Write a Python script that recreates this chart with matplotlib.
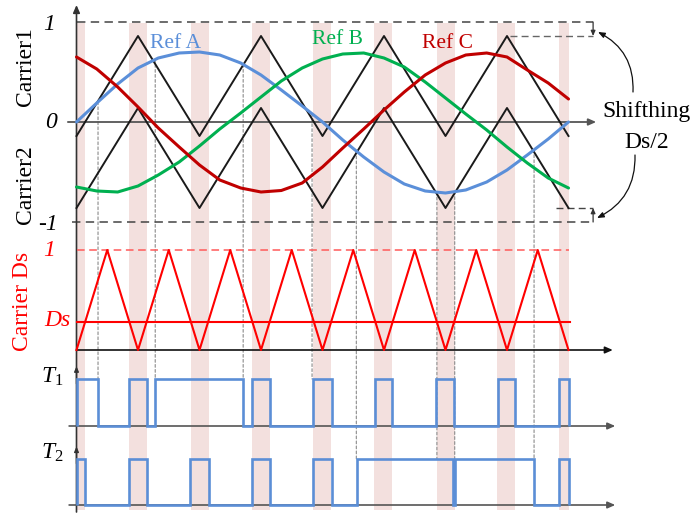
import numpy as np
import matplotlib
matplotlib.use("Agg")
import matplotlib.pyplot as plt
from matplotlib.patches import FancyArrowPatch, ConnectionPatch

plt.rcParams['font.family'] = ['Liberation Serif', 'DejaVu Serif']
plt.rcParams['mathtext.fontset'] = 'custom'
plt.rcParams['mathtext.it'] = 'Liberation Serif:italic'
plt.rcParams['mathtext.rm'] = 'Liberation Serif'

# ---------------- data ----------------
# time axis: one fundamental cycle = 8 periods of the Ds carrier
DS = 0.28

CARRIER_T = [0, 1, 2, 3, 4, 5, 6, 7, 8]
CARRIER1 = [-0.14, 0.86, -0.14, 0.86, -0.14, 0.86, -0.14, 0.86, -0.14]
CARRIER2 = [-0.86, 0.14, -0.86, 0.14, -0.86, 0.14, -0.86, 0.14, -0.86]

CARRIER_DS_T = [0, 0.5, 1, 1.5, 2, 2.5, 3, 3.5, 4, 4.5, 5, 5.5, 6, 6.5, 7, 7.5, 8]
CARRIER_DS = [0, 1, 0, 1, 0, 1, 0, 1, 0, 1, 0, 1, 0, 1, 0, 1, 0]

# reference waves sampled every third of a Ds-carrier period
REF_T = [0.0, 0.33, 0.67, 1.0, 1.33, 1.67, 2.0, 2.33, 2.67, 3.0, 3.33, 3.67,
         4.0, 4.33, 4.67, 5.0, 5.33, 5.67, 6.0, 6.33, 6.67, 7.0, 7.33, 7.67, 8.0]
REF_A = [0.0, 0.19, 0.38, 0.54, 0.64, 0.69, 0.70, 0.67, 0.59, 0.47, 0.32, 0.16,
         0.0, -0.18, -0.35, -0.50, -0.62, -0.69, -0.71, -0.68, -0.60, -0.48,
         -0.33, -0.17, 0.0]
REF_B = [-0.65, -0.69, -0.70, -0.64, -0.53, -0.40, -0.24, -0.07, 0.09, 0.25,
         0.41, 0.54, 0.63, 0.68, 0.69, 0.64, 0.55, 0.40, 0.24, 0.08, -0.08,
         -0.25, -0.41, -0.56, -0.66]
REF_C = [0.65, 0.53, 0.35, 0.15, -0.06, -0.25, -0.43, -0.58, -0.66, -0.70,
         -0.685, -0.61, -0.45, -0.26, -0.07, 0.12, 0.30, 0.47, 0.59, 0.67, 0.69,
         0.65, 0.52, 0.39, 0.23]

T1_EDGES = [0, 0.35, 0.85, 1.15, 1.28, 2.71, 2.85, 3.15, 3.85, 4.15, 4.85,
            5.13, 5.85, 6.14, 6.85, 7.13, 7.85, 8.0]
T1_STATE = [1, 0, 1, 0, 1, 0, 1, 0, 1, 0, 1, 0, 1, 0, 1, 0, 1]

T2_EDGES = [0, 0.14, 0.85, 1.15, 1.85, 2.15, 2.85, 3.15, 3.85, 4.15, 4.56,
            6.13, 6.16, 7.44, 7.85, 8.0]
T2_STATE = [1, 0, 1, 0, 1, 0, 1, 0, 1, 0, 1, 0, 1, 0, 1]

BAND_START = [0.0, 0.85, 1.86, 2.85, 3.85, 4.84, 5.86, 6.84, 7.85]
BAND_END = [0.14, 1.15, 2.15, 3.15, 4.14, 5.13, 6.15, 7.13, 8.0]

# switching instants of phase A (Ref A against the carriers)
T1_MARKS = [0.35, 1.28, 2.71, 3.83]
T2_MARKS = [4.55, 5.86, 6.15, 7.44]

# ---------------- figure / panels ----------------
W, H = 695, 514
X0, XS = 76.5, 61.5
fig = plt.figure(figsize=(W / 100, H / 100), dpi=100)
XLIM = (-X0 / XS, (W - X0) / XS)


def panel(name, y0_px, scale_px):
    ax = fig.add_axes([0, 0, 1, 1], label=name)
    ax.set_xlim(*XLIM)
    ax.set_ylim((y0_px - H) / scale_px, y0_px / scale_px)
    ax.axis('off')
    ax.patch.set_alpha(0)
    return ax


ax_top = panel('top', 122, 100)
ax_ds = panel('ds', 350, 100)
ax_t1 = panel('t1', 426, 47)
ax_t2 = panel('t2', 505, 46)
ax_px = fig.add_axes([0, 0, 1, 1], label='px')
ax_px.set_xlim(0, W)
ax_px.set_ylim(H, 0)
ax_px.axis('off')
ax_px.patch.set_alpha(0)

BAND = '#f3e0de'
AX = '#333333'


def arrow(ax, p0, p1, color=AX, lw=1.2, ms=9):
    ax.annotate('', xy=p1, xytext=p0,
                arrowprops=dict(arrowstyle='-|>,head_length=0.5,head_width=0.22',
                                color=color, lw=lw, mutation_scale=ms,
                                shrinkA=0, shrinkB=0))


# shaded intervals where Carrier Ds < Ds
for a, b in zip(BAND_START, BAND_END):
    ax_top.axvspan(a, b, ymin=(H - 510) / H, ymax=(H - 23) / H,
                   color=BAND, lw=0, zorder=0)

# vertical guide lines at the switching instants
for marks, axb in ((T1_MARKS, ax_t1), (T2_MARKS, ax_t2)):
    for t in marks:
        v = float(np.interp(t, REF_T, REF_A))
        cp = ConnectionPatch(xyA=(t, v), coordsA=ax_top.transData,
                             xyB=(t, 1), coordsB=axb.transData,
                             color='#8a8a8a', lw=0.8, ls=(0, (2.5, 2)), zorder=1)
        ax_top.add_artist(cp)

# ---- top panel: carriers and references ----
ax_top.plot([0, 8.4], [1, 1], color='#444444', lw=1.1, ls=(0, (5.5, 3.5)), zorder=2)
ax_top.plot([-0.07, 8.35], [-1, -1], color='#444444', lw=1.1, ls=(0, (5.5, 3.5)), zorder=2)
# Ds/2 shift brackets
ax_top.plot([7.05, 8.4], [1 - DS / 2, 1 - DS / 2], color='#666666', lw=1.0,
            ls=(0, (5, 3)), zorder=2)
ax_top.plot([7.8, 8.4], [-1 + DS / 2, -1 + DS / 2], color='#444444', lw=1.0,
            ls=(0, (5, 3)), zorder=2)
arrow(ax_top, (8.4, 1), (8.4, 1 - DS / 2), lw=0.9, ms=6)
arrow(ax_top, (8.4, -1), (8.4, -1 + DS / 2), lw=0.9, ms=6)

arrow(ax_top, (-0.14, 0), (8.45, 0), color='#555555', lw=1.3)
arrow(ax_top, (0, -3.90), (0, 1.17), color=AX, lw=1.2)

ax_top.plot(CARRIER_T, CARRIER1, color='#1a1a1a', lw=1.4, zorder=3)
ax_top.plot(CARRIER_T, CARRIER2, color='#1a1a1a', lw=1.4, zorder=3)
for vals, col in ((REF_A, '#5b8fd9'), (REF_B, '#00b050'), (REF_C, '#c00000')):
    ax_top.plot(REF_T, vals, color=col, lw=2.2, zorder=4,
                solid_capstyle='round', solid_joinstyle='round')

# ---- Ds carrier panel ----
ax_ds.plot([0, 8.0], [1, 1], color='#ff5a5a', lw=1.1, ls=(0, (5, 3)), zorder=2)
arrow(ax_ds, (0, 0), (8.72, 0), color='#111111', lw=1.2)
ax_ds.plot(CARRIER_DS_T, CARRIER_DS, color='#ff0000', lw=1.5, zorder=3)
ax_ds.plot([0, 8.02], [DS, DS], color='#ff0000', lw=1.5, zorder=3)

# ---- gate signals ----
for axs, edges, state in ((ax_t1, T1_EDGES, T1_STATE), (ax_t2, T2_EDGES, T2_STATE)):
    arrow(axs, (-0.12, 0), (8.76, 0), color='#555555', lw=1.2)
    arrow(axs, (0, 0.9), (0, 1.27), color=AX, lw=1.0, ms=6)
    axs.stairs(state, edges, baseline=0, color='#5b8ed6', lw=1.9, zorder=4)

# ---- labels ----
FS = 17
ax_px.text(49, 24, '1', fontsize=FS, style='italic', ha='center', va='center')
ax_px.text(51, 123, '0', fontsize=FS, style='italic', ha='center', va='center')
ax_px.text(48, 224, '-1', fontsize=FS, style='italic', ha='center', va='center')
ax_px.text(25, 67, 'Carrier1', fontsize=FS, rotation=90, ha='center', va='center')
ax_px.text(25, 185, 'Carrier2', fontsize=FS, rotation=90, ha='center', va='center')
ax_px.text(23, 301, 'Carrier Ds', fontsize=FS, rotation=90, color='#ff0000',
           ha='center', va='center')
ax_px.text(49, 251, '1', fontsize=FS, style='italic', color='#ff0000',
           ha='center', va='center')
ax_px.text(57, 320, 'Ds', fontsize=FS, style='italic', color='#ff0000',
           ha='center', va='center')
ax_px.text(52, 377, r'$T_{\mathit{1}}$', fontsize=FS, ha='center', va='center')
ax_px.text(52, 453, r'$T_{\mathit{2}}$', fontsize=FS, ha='center', va='center')

ax_px.text(176, 43, 'Ref A', fontsize=15.5, color='#5b8fd9', ha='center', va='center')
ax_px.text(337, 40, 'Ref B', fontsize=15.5, color='#00b050', ha='center', va='center')
ax_px.text(448, 44, 'Ref C', fontsize=15.5, color='#c00000', ha='center', va='center')

ax_px.text(647, 111, 'Shifthing', fontsize=FS, ha='center', va='center')
ax_px.text(647, 142, 'Ds/2', fontsize=FS, ha='center', va='center')

for p0, p1, rad in (((633, 92), (598, 32), 0.32), ((635, 155), (597, 218), -0.32)):
    ax_px.add_patch(FancyArrowPatch(p0, p1, connectionstyle=f'arc3,rad={rad}',
                                    arrowstyle='-|>,head_length=0.5,head_width=0.2',
                                    mutation_scale=8, lw=0.9, color='#111111',
                                    shrinkA=0, shrinkB=0))

fig.savefig('out.png', dpi=100)
